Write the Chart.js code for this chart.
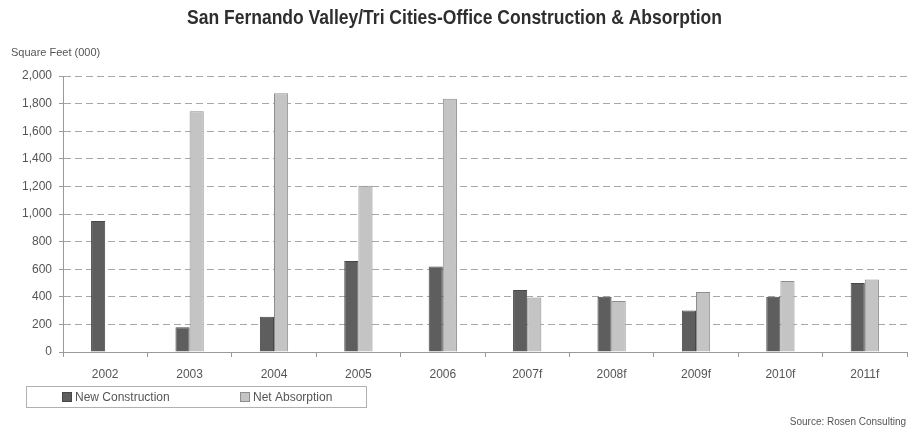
<!DOCTYPE html>
<html>
<head>
<meta charset="utf-8">
<script src="https://cdn.jsdelivr.net/npm/chart.js@4/dist/chart.umd.min.js"></script>
<style>
  html, body { margin: 0; padding: 0; background: #fff; }
  #wrap { position: relative; width: 909px; height: 429px; }
</style>
</head>
<body>
<div id="wrap"><canvas id="c" width="909" height="429"></canvas></div>
<script>
// ---- data ----
const titleText = "San Fernando Valley/Tri Cities-Office Construction & Absorption";
const unitLabel = "Square Feet (000)";
const sourceText = "Source: Rosen Consulting";
const categories = ["2002", "2003", "2004", "2005", "2006", "2007f", "2008f", "2009f", "2010f", "2011f"];
const seriesNames = ["New Construction", "Net Absorption"];
const newConstruction = [950, 180, 255, 660, 620, 450, 400, 300, 400, 500];
const netAbsorption = [null, 1745, 1875, 1205, 1835, 395, 370, 435, 515, 525];
const yTickValues = [0, 200, 400, 600, 800, 1000, 1200, 1400, 1600, 1800, 2000];

const FONT = "'Liberation Sans', Arial, sans-serif";
const TEXT = '#555';

const decorations = {
  id: 'decorations',
  afterDraw(chart) {
    const ctx = chart.ctx;
    ctx.save();
    // title: condensed bold look, fitted to reference width
    ctx.font = `bold 21px ${FONT}`;
    const w = ctx.measureText(titleText).width;
    const sx = 535 / w;
    ctx.save();
    ctx.translate(454.5, 18);
    ctx.scale(sx, 1);
    ctx.fillStyle = '#2e2e2e';
    ctx.textAlign = 'center';
    ctx.textBaseline = 'middle';
    ctx.fillText(titleText, 0, 0);
    ctx.restore();
    // unit label
    ctx.font = `11px ${FONT}`;
    ctx.fillStyle = TEXT;
    ctx.textAlign = 'left';
    ctx.textBaseline = 'middle';
    ctx.fillText(unitLabel, 11, 53);
    // source
    ctx.font = `10px ${FONT}`;
    ctx.textAlign = 'right';
    ctx.fillText(sourceText, 906, 422);
    // legend box
    ctx.strokeStyle = '#b0b0b0';
    ctx.lineWidth = 1;
    ctx.strokeRect(26.5, 386.5, 340, 21);
    const items = [{x: 62}, {x: 240}];
    chart.data.datasets.forEach((ds, i) => {
      const x = items[i].x;
      ctx.fillStyle = ds.backgroundColor;
      ctx.fillRect(x, 392, 10, 10);
      ctx.strokeStyle = ds.borderColor;
      ctx.strokeRect(x + 0.5, 392.5, 9, 9);
      ctx.fillStyle = TEXT;
      ctx.font = `12px ${FONT}`;
      ctx.textAlign = 'left';
      ctx.textBaseline = 'middle';
      ctx.fillText(ds.label, x + 13, 397.5);
    });
    ctx.restore();
  }
};

new Chart(document.getElementById('c'), {
  type: 'bar',
  data: {
    labels: categories,
    datasets: [
      { label: seriesNames[0], data: newConstruction, backgroundColor: '#5e5e5e', borderColor: '#474747', borderWidth: 1 },
      { label: seriesNames[1], data: netAbsorption, backgroundColor: '#c4c4c4', borderColor: '#8e8e8e', borderWidth: 1 }
    ]
  },
  options: {
    responsive: false,
    animation: false,
    devicePixelRatio: 1,
    layout: { padding: { top: 76, left: 0, right: 2, bottom: 0 } },
    datasets: { bar: { categoryPercentage: 0.335, barPercentage: 1 } },
    plugins: { legend: { display: false }, title: { display: false }, tooltip: { enabled: false } },
    scales: {
      x: {
        afterFit(s) { s.height = 77; },
        grid: { display: true, drawOnChartArea: false, drawTicks: true, tickLength: 5, offset: true, color: '#9a9a9a' },
        border: { display: true, color: '#9a9a9a', width: 1 },
        ticks: { color: TEXT, font: { family: FONT, size: 12 }, padding: 10, maxRotation: 0 }
      },
      y: {
        min: 0, max: 2000,
        afterFit(s) { s.width = 63; },
        afterBuildTicks(s) { s.ticks = yTickValues.map(v => ({ value: v })); },
        grid: { color: '#a8a8a8', drawTicks: true, tickLength: 4, tickColor: '#9a9a9a' },
        border: { display: true, color: '#9a9a9a', width: 1, dash: [7, 4] },
        ticks: { color: TEXT, font: { family: FONT, size: 12 }, padding: 7,
          callback: v => v.toLocaleString('en-US') }
      }
    }
  },
  plugins: [decorations]
});
</script>
</body>
</html>
